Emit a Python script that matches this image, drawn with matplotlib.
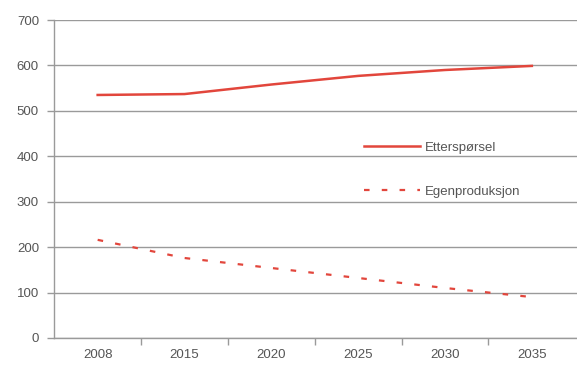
import matplotlib.pyplot as plt
import numpy as np

plt.rcParams['font.family'] = ['Liberation Sans', 'DejaVu Sans']

# data
years = ['2008', '2015', '2020', '2025', '2030', '2035']
ettersporsel = [535, 537, 558, 577, 590, 599]
egenproduksjon = [216, 176, 154, 132, 110, 90]

red = '#e2463c'
grid = '#9a9a9a'
text = '#555555'

fig = plt.figure(figsize=(5.77, 3.78), dpi=100)
ax = fig.add_axes([0.094, 0.106, 0.906, 0.841])

x = np.arange(len(years))
ax.plot(x, ettersporsel, color=red, lw=1.8, label='Etterspørsel')
ax.plot(x, egenproduksjon, color=red, lw=1.6, linestyle=(0, (2.5, 5.5)),
        label='Egenproduksjon')

# axes and grid
ax.set_ylim(0, 700)
ax.set_yticks(range(0, 701, 100))
ax.set_xlim(-0.5, 5.52)
ax.set_xticks(x)
ax.set_xticklabels(years)
ax.set_xticks(np.arange(0.5, 5.5, 1), minor=True)
ax.yaxis.grid(True, color=grid, lw=1)
ax.set_axisbelow(True)
for s in ['top', 'right']:
    ax.spines[s].set_visible(False)
for s in ['left', 'bottom']:
    ax.spines[s].set_color(grid)
    ax.spines[s].set_linewidth(1)
ax.tick_params(axis='x', which='major', length=0, pad=8, labelsize=9.5, labelcolor=text)
ax.tick_params(axis='x', which='minor', length=5, color=grid, width=1)
ax.tick_params(axis='y', length=5, color=grid, width=1, labelsize=9.5, labelcolor=text, pad=6)

# legend
leg = ax.legend(loc='upper left', bbox_to_anchor=(0.57, 0.655), frameon=False,
                fontsize=9.5, handlelength=4.2, handletextpad=0.4, labelspacing=2.4)
for t in leg.get_texts():
    t.set_color(text)

fig.savefig('out.png', dpi=100)
